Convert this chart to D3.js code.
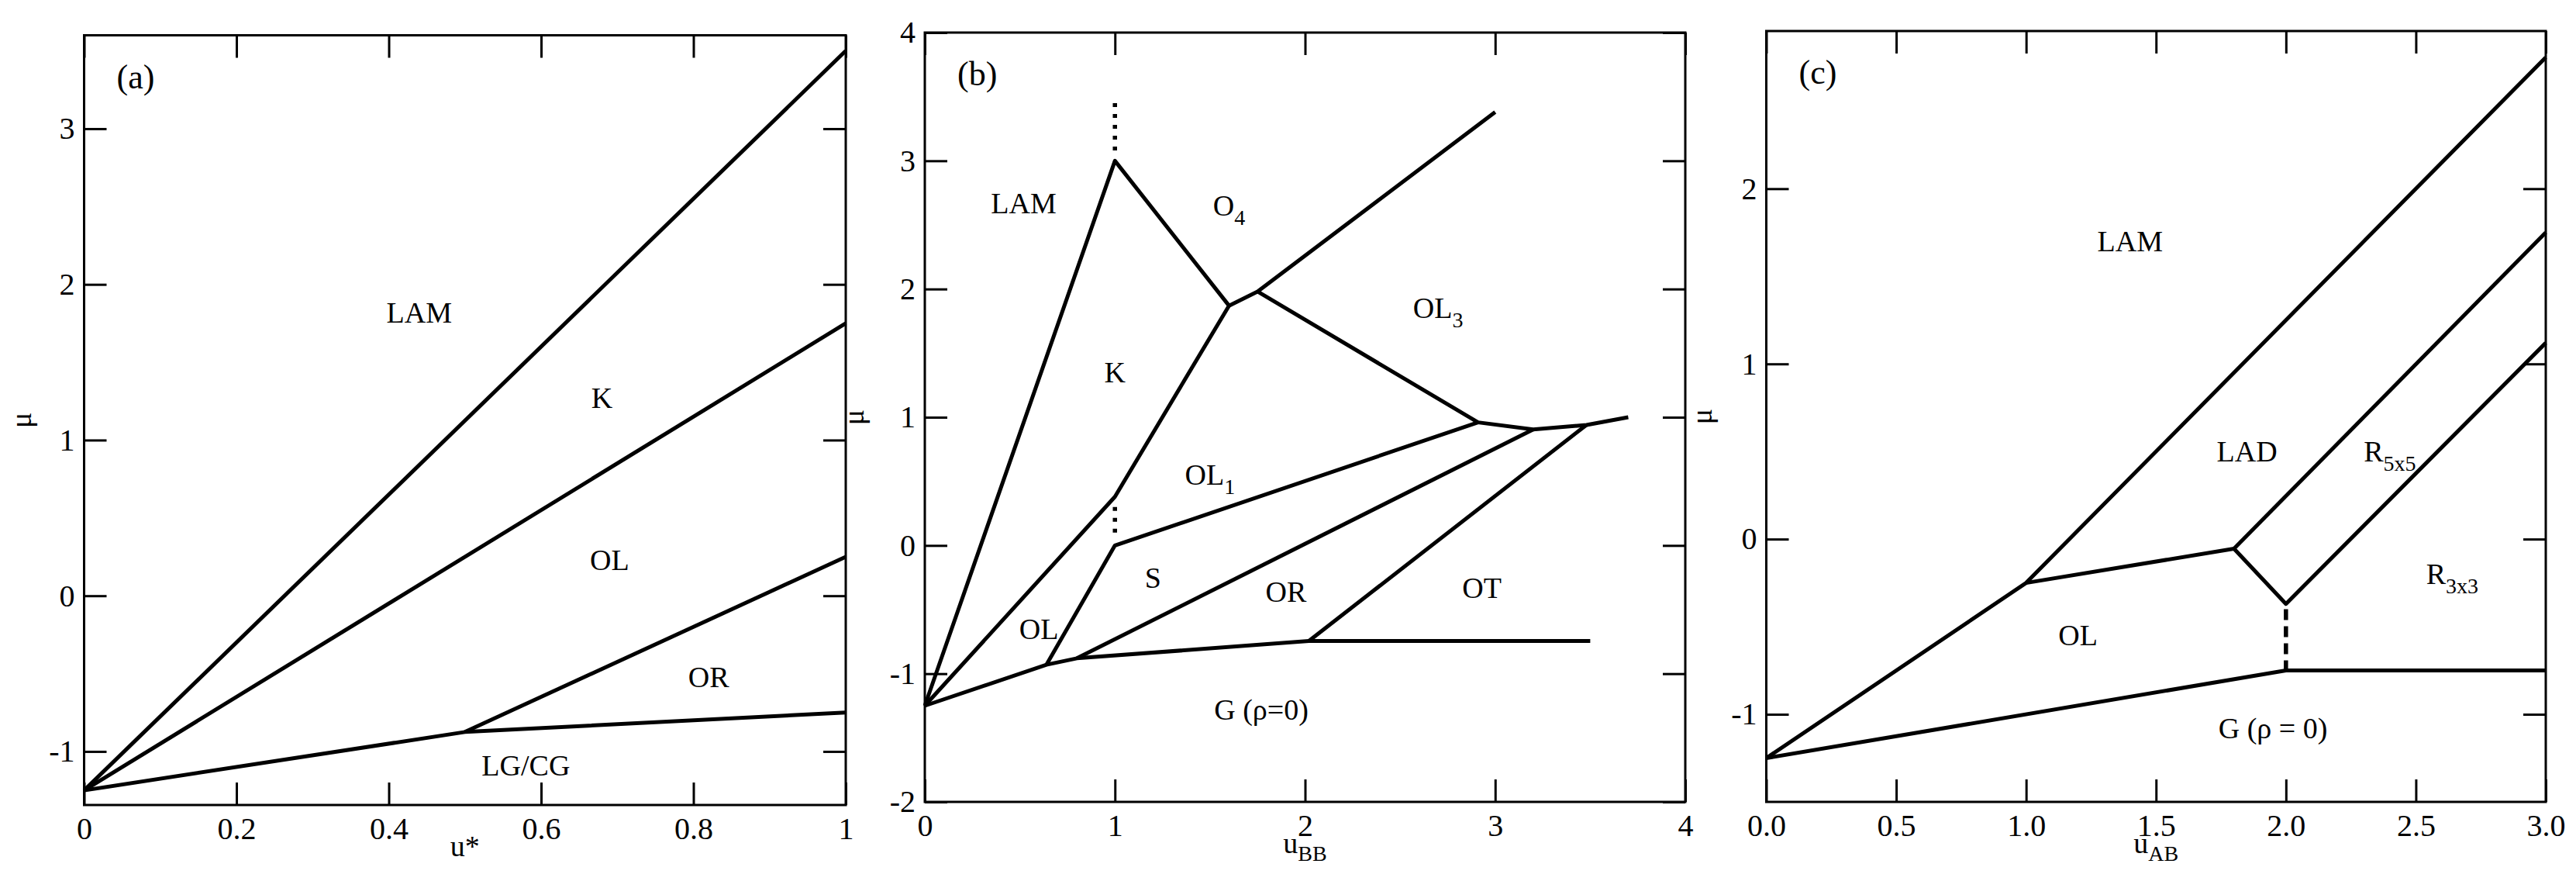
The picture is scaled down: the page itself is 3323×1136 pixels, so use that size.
<!DOCTYPE html>
<html><head><meta charset="utf-8">
<script src="https://cdn.jsdelivr.net/npm/d3@7"></script>
<style>body{margin:0;background:#fff}text{font-family:"Liberation Serif",serif;fill:#000}</style>
</head><body><svg id="c" width="3323" height="1136"></svg>
<script>
// Panel (a)
const aTicksX=[0,0.2,0.4,0.6,0.8,1], aTicksY=[-1,0,1,2,3];
const aLines=[
 {pts:[[0,-1.25],[1,3.5]]},
 {pts:[[0,-1.25],[1,1.75]]},
 {pts:[[0,-1.25],[0.5,-0.875],[1,-0.75]]},
 {pts:[[0.5,-0.875],[1,0.25]]}];
const aLabels=[["LAM",0.44,1.82],["K",0.68,1.27],["OL",0.69,0.23],["OR",0.82,-0.52],["LG/CG",0.58,-1.09]];
// Panel (b)
const bTicksX=[0,1,2,3,4], bTicksY=[-2,-1,0,1,2,3,4];
const bLines=[
 {pts:[[0,-1.25],[1,3],[1.6,1.87],[1.75,1.98],[3,3.38]]},
 {pts:[[1.75,1.98],[2.91,0.96],[3.2,0.905],[3.48,0.94],[3.7,1.0]]},
 {pts:[[0,-1.25],[1,0.38],[1.6,1.87]]},
 {pts:[[0.64,-0.93],[1,0],[2.91,0.96]]},
 {pts:[[0.8,-0.88],[3.2,0.905]]},
 {pts:[[2.02,-0.745],[3.48,0.94]]},
 {pts:[[0,-1.25],[0.64,-0.93],[0.8,-0.88],[2.02,-0.745],[3.5,-0.745]]},
 {pts:[[1,3.08],[1,3.5]],dash:"5,9"},
 {pts:[[1,0.1],[1,0.3]],dash:"5,9"}];
const bLabels=[["LAM",0.52,2.67],["O","4",1.6,2.65],["K",1.0,1.35],["OL","3",2.7,1.85],["OL","1",1.5,0.55],
 ["S",1.2,-0.25],["OR",1.9,-0.36],["OT",2.93,-0.33],["OL",0.6,-0.65],["G (ρ=0)",1.77,-1.28]];
// Panel (c)
const cTicksX=[0,0.5,1,1.5,2,2.5,3], cTicksY=[-1,0,1,2];
const cLines=[
 {pts:[[0,-1.25],[1,-0.25],[3,2.75]]},
 {pts:[[1,-0.25],[1.8,-0.055],[2,-0.37],[3,1.12]]},
 {pts:[[1.8,-0.055],[3,1.75]]},
 {pts:[[0,-1.25],[2,-0.75],[3,-0.75]]},
 {pts:[[2,-0.4],[2,-0.75]],dash:"14,8"}];
const cLabels=[["LAM",1.4,1.7],["LAD",1.85,0.5],["R","5x5",2.4,0.5],["R","3x3",2.64,-0.2],["OL",1.2,-0.55],["G (ρ = 0)",1.95,-1.08]];

const svg=d3.select("#c");
const panels=[
 {tag:"(a)",L:108.5,R:1091,T:45.5,B:1038,xd:[0,1],yd:[-1.344,3.6],tx:aTicksX,ty:aTicksY,fx:d=>d===0||d===1?d:d3.format(".1f")(d),lines:aLines,labels:aLabels,xl:["u*"],ylx:40},
 {tag:"(b)",L:1193,R:2174,T:42,B:1034,xd:[0,4],yd:[-2,4],tx:bTicksX,ty:bTicksY,fx:d=>d,lines:bLines,labels:bLabels,xl:["u","BB"],ylx:1114},
 {tag:"(c)",L:2278.5,R:3284,T:40,B:1034,xd:[0,3],yd:[-1.5,2.9],tx:cTicksX,ty:cTicksY,fx:d3.format(".1f"),lines:cLines,labels:cLabels,xl:["u","AB"],ylx:2208}];
panels.forEach(p=>{
 const x=d3.scaleLinear().domain(p.xd).range([p.L,p.R]);
 const y=d3.scaleLinear().domain(p.yd).range([p.B,p.T]);
 const g=svg.append("g");
 const tl=29;
 g.append("g").attr("transform",`translate(0,${p.B})`).call(d3.axisBottom(x).tickValues(p.tx).tickSize(-tl).tickFormat(p.fx).tickPadding(16));
 g.append("g").attr("transform",`translate(0,${p.T})`).call(d3.axisTop(x).tickValues(p.tx).tickSize(-tl).tickFormat(""));
 g.append("g").attr("transform",`translate(${p.L},0)`).call(d3.axisLeft(y).tickValues(p.ty).tickSize(-tl).tickFormat(d=>d).tickPadding(12));
 g.append("g").attr("transform",`translate(${p.R},0)`).call(d3.axisRight(y).tickValues(p.ty).tickSize(-tl).tickFormat(""));
 g.selectAll(".domain").remove();
 g.selectAll(".tick line").attr("stroke","#000").attr("stroke-width",3);
 g.selectAll(".tick text").attr("font-size",40).attr("font-family","Liberation Serif");
 g.append("rect").attr("x",p.L).attr("y",p.T).attr("width",p.R-p.L).attr("height",p.B-p.T).attr("fill","none").attr("stroke","#000").attr("stroke-width",3);
 const line=d3.line().x(d=>x(d[0])).y(d=>y(d[1]));
 p.lines.forEach(l=>g.append("path").attr("d",line(l.pts)).attr("fill","none").attr("stroke","#000").attr("stroke-width",l.dash?5.5:5).attr("stroke-linejoin","round").attr("stroke-dasharray",l.dash||null));
 p.labels.forEach(lb=>{
  const sub=lb.length===4; const lx=sub?lb[2]:lb[1], ly=sub?lb[3]:lb[2];
  const t=g.append("text").attr("x",x(lx)).attr("y",y(ly)+13).attr("text-anchor","middle").attr("font-size",38);
  t.append("tspan").text(lb[0]);
  if(sub) t.append("tspan").attr("dy",12).attr("font-size",28).text(lb[1]);
 });
 g.append("text").attr("x",p.L+42).attr("y",p.T+68).attr("font-size",44).text(p.tag);
 const xt=g.append("text").attr("x",(p.L+p.R)/2).attr("y",p.B+66).attr("text-anchor","middle").attr("font-size",38);
 xt.append("tspan").text(p.xl[0]);
 if(p.xl[1]) xt.append("tspan").attr("dy",10).attr("font-size",28).text(p.xl[1]);
 g.append("text").attr("transform",`translate(${p.ylx},${(p.T+p.B)/2}) rotate(-90)`).attr("text-anchor","middle").attr("font-size",38).text("μ");
});
</script></body></html>
